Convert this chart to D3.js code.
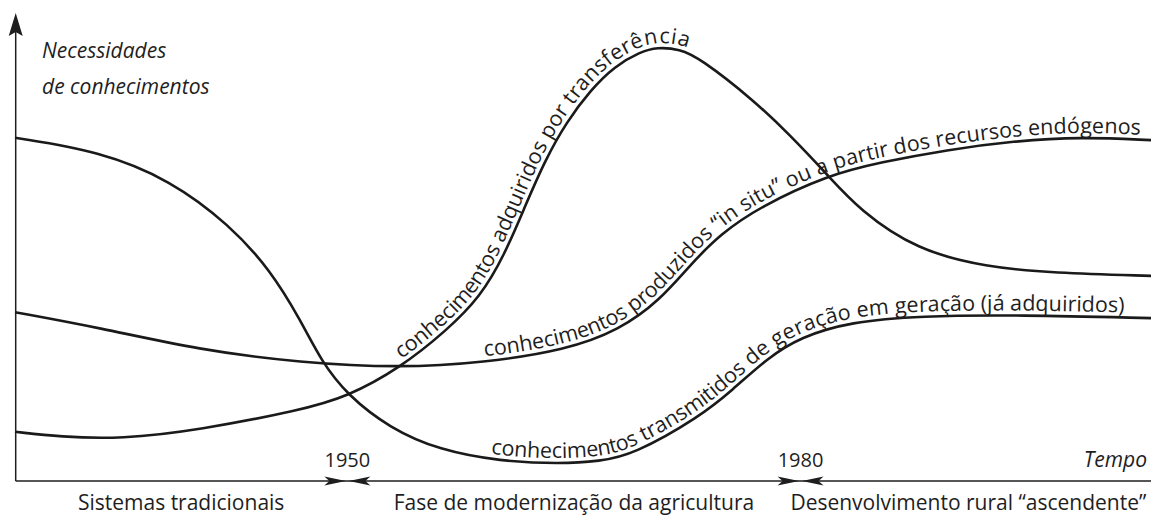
<!DOCTYPE html>
<html>
<head>
<meta charset="utf-8">
<script src="https://cdn.jsdelivr.net/npm/d3@7"></script>
<style>
body { margin: 0; background: #fff; }
text { font-family: "Open Sans", sans-serif; fill: #1e1e1e; font-size: 20px; }
.it { font-style: italic; font-size: 21px; }
.lbl { font-size: 21.5px; }
</style>
</head>
<body>
<div id="chart"></div>
<script>
// curves: [year, need level 0-100]
const transmitidos = [
  [1928, 74.6], [1933.6, 71.7], [1938.3, 65.4], [1942.2, 55.7], [1944.9, 45.9], [1946.9, 35.0],
  [1948.3, 25.9], [1950, 18.7], [1952.8, 11.5], [1956.1, 6.7], [1960.1, 4.3], [1964.1, 3.7],
  [1966.7, 4.3], [1968.9, 5.7], [1973.3, 13.9], [1975.5, 19.8], [1977.8, 26.7], [1980, 31.3],
  [1983.3, 34.6], [1987.9, 35.9], [1994.5, 36.1], [2003.2, 35.4]
]
const produzidos = [
  [1928, 36.7], [1933.6, 33.3], [1940.2, 28.5], [1946.9, 25.7], [1953.5, 24.6], [1959, 25.7],
  [1964.5, 28.5], [1968, 32.8], [1970.7, 39.3], [1972.7, 47.0], [1974.7, 53.7], [1977.3, 59.6],
  [1981.8, 66.5], [1985.3, 69.3], [1989.7, 72.0], [1994.1, 73.9], [1998.5, 74.8], [2003.2, 74.1]
]
const transferencia = [
  [1928, 10.7], [1931, 9.6], [1935, 9.1], [1940.2, 11.1], [1946.9, 15.4], [1950, 18.3],
  [1953.5, 24.6], [1956.6, 32.8], [1958.8, 40.0], [1960.4, 49.1], [1961.8, 60.0], [1963.1, 69.8],
  [1964.5, 78.0], [1966.1, 85.0], [1967.7, 90.2], [1969.4, 93.3], [1970.5, 94.3], [1972, 93.9],
  [1973.3, 92.0], [1976.9, 82.8], [1979.3, 75.2], [1981.8, 66.5], [1983.9, 58.9], [1987.7, 50.2],
  [1992.3, 46.5], [1996.7, 45.2], [2003.2, 44.6]
]

const curveLabels = [
  "conhecimentos transmitidos de geração em geração (já adquiridos)",
  "conhecimentos produzidos “in situ” ou a partir dos recursos endógenos",
  "conhecimentos adquiridos por transferência"
]
const marks = [1950, 1980]
const periods = ["Sistemas tradicionais", "Fase de modernização da agricultura", "Desenvolvimento rural “ascendente”"]
const yTitle = ["Necessidades", "de conhecimentos"]
const xTitle = "Tempo"

const W = 1151, H = 516
const svg = d3.select("#chart").append("svg").attr("width", W).attr("height", H)

const x = d3.scaleLinear().domain([1928, 2003]).range([15, 1148])
const y = d3.scaleLinear().domain([0, 100]).range([481, 21])

const x0 = 15.7, yAxis = 481
const line = d3.line().x(d => x(d[0])).y(d => y(d[1])).curve(d3.curveBasis)

// axes
svg.append("line").attr("x1", x0).attr("x2", x0).attr("y1", 30).attr("y2", yAxis)
  .attr("stroke", "#1e1e1e").attr("stroke-width", 1.5)
svg.append("line").attr("x1", x0).attr("x2", W).attr("y1", yAxis).attr("y2", yAxis)
  .attr("stroke", "#1e1e1e").attr("stroke-width", 1.5)
svg.append("path").attr("d", `M${x0},13 L${x0 + 7},36 L${x0},32 L${x0 - 7},36 Z`).attr("fill", "#1e1e1e")

// period arrows
marks.forEach(m => {
  let px = x(m)
  svg.append("path").attr("d", `M${px - 1.5},${yAxis} L${px - 23},${yAxis - 4.5} L${px - 18},${yAxis} L${px - 23},${yAxis + 4.5} Z`).attr("fill", "#1e1e1e")
  svg.append("path").attr("d", `M${px + 1.5},${yAxis} L${px + 23},${yAxis - 4.5} L${px + 18},${yAxis} L${px + 23},${yAxis + 4.5} Z`).attr("fill", "#1e1e1e")
  svg.append("text").attr("x", px).attr("y", 467).attr("text-anchor", "middle").text(m)
})

let bounds = [x.domain()[0], ...marks, x.invert(W)]
periods.forEach((p, i) => {
  let t = svg.append("text").attr("x", x((bounds[i] + bounds[i + 1]) / 2)).attr("y", 510)
    .attr("text-anchor", "middle").style("font-size", "21px").text(p)
  let b = t.node().getBBox()
  if (b.x + b.width > W - 4) t.attr("x", +t.attr("x") - (b.x + b.width - (W - 4)))
})

svg.append("text").attr("class", "it").attr("x", 1147).attr("y", 467).attr("text-anchor", "end").text(xTitle)
svg.append("text").attr("class", "it").attr("x", 42).attr("y", 58).text(yTitle[0])
svg.append("text").attr("class", "it").attr("x", 42).attr("y", 94).text(yTitle[1])

// curves
const series = [transmitidos, produzidos, transferencia]
const startX = [490, 485, 404]
function lengthAtX(node, px) {
  let lo = 0, hi = node.getTotalLength()
  for (let i = 0; i < 40; i++) {
    let mid = (lo + hi) / 2
    if (node.getPointAtLength(mid).x < px) lo = mid; else hi = mid
  }
  return lo
}
series.forEach((s, i) => {
  let p = svg.append("path").attr("id", "c" + i).attr("d", line(s))
    .attr("fill", "none").attr("stroke", "#1a1a1a").attr("stroke-width", 2.6)
  svg.append("text").attr("class", "lbl").attr("dy", -5).append("textPath").attr("href", "#c" + i)
    .attr("startOffset", lengthAtX(p.node(), startX[i])).text(curveLabels[i])
})
</script>
</body>
</html>
